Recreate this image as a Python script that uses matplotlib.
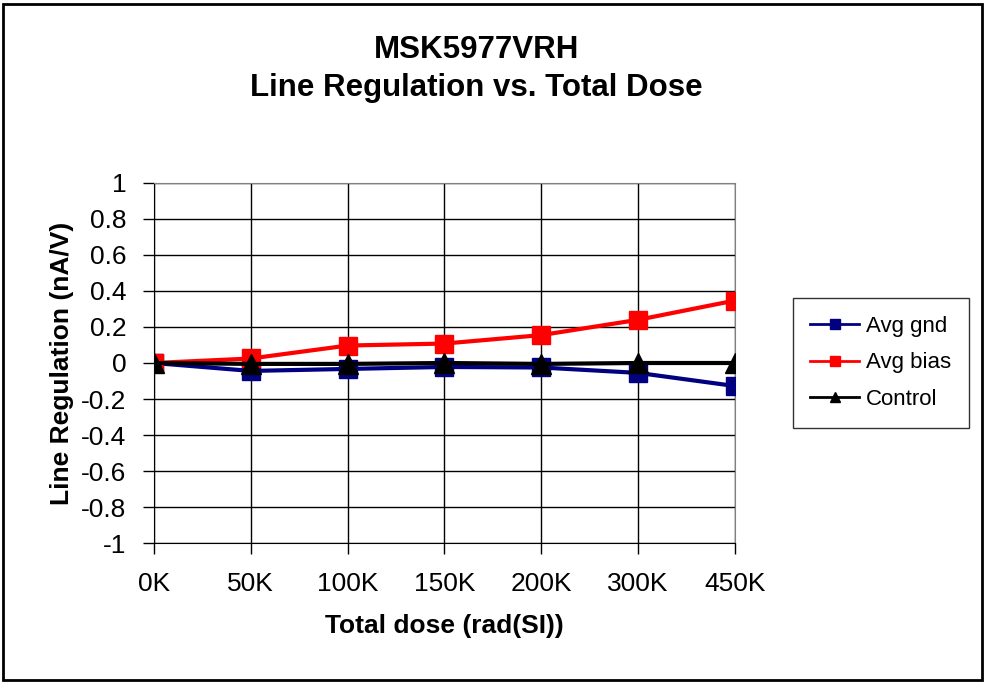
import matplotlib.pyplot as plt
from matplotlib.patches import Rectangle

plt.rcParams['font.family'] = ['Liberation Sans', 'DejaVu Sans']

# categories and series
doses = ['0K', '50K', '100K', '150K', '200K', '300K', '450K']
avg_gnd = [0.0, -0.044, -0.033, -0.022, -0.025, -0.055, -0.128]
avg_bias = [0.0, 0.025, 0.097, 0.108, 0.155, 0.24, 0.347]
control = [0.0, -0.005, -0.005, 0.0, -0.005, 0.0, 0.0]
yticks = [1, 0.8, 0.6, 0.4, 0.2, 0, -0.2, -0.4, -0.6, -0.8, -1]

fig = plt.figure(figsize=(9.85, 6.84), dpi=100)
ax = fig.add_axes([0.1563, 0.2061, 0.5899, 0.5264])

x = range(len(doses))
ax.plot(x, avg_gnd, color='#000080', lw=3, marker='s', ms=13.5, label='Avg gnd', zorder=3)
ax.plot(x, avg_bias, color='#ff0000', lw=3, marker='s', ms=13.5, label='Avg bias', zorder=4)
ax.plot(x, control, color='black', lw=3, marker='^', ms=14, label='Control', zorder=5)

ax.set_xlim(0, len(doses) - 1)
ax.set_ylim(-1, 1)
ax.set_xticks(list(x))
ax.set_xticklabels(doses)
ax.set_yticks(yticks)
ax.set_yticklabels([f'{v:g}' for v in yticks])
ax.tick_params(axis='both', labelsize=19, direction='out', length=8, width=1)
ax.tick_params(axis='x', pad=13)
ax.tick_params(axis='y', pad=12)
ax.grid(True, color='black', lw=1)
ax.set_axisbelow(True)
for s in ['top', 'right']:
    ax.spines[s].set_color('#808080')
for s in ['left', 'bottom']:
    ax.spines[s].set_color('black')

ax.set_xlabel('Total dose (rad(SI))', fontsize=19, fontweight='bold', labelpad=13)
ax.set_ylabel('Line Regulation (nA/V)', fontsize=19, fontweight='bold', labelpad=5)

fig.text(0.484, 0.927, 'MSK5977VRH', fontsize=22.5, fontweight='bold', ha='center', va='center')
fig.text(0.484, 0.871, 'Line Regulation vs. Total Dose', fontsize=22.5, fontweight='bold',
         ha='center', va='center')

leg = ax.legend(loc='center left', bbox_to_anchor=(1.08, 0.5), fontsize=16,
                frameon=True, fancybox=False, edgecolor='black', handlelength=2.2,
                handletextpad=0.3, labelspacing=0.7, borderpad=0.8, markerscale=0.5)
leg.get_frame().set_linewidth(1)
for line in leg.get_lines():
    line.set_linewidth(2)

# outer chart frame
fig.patches.append(Rectangle((0.003, 0.006), 0.994, 0.988, transform=fig.transFigure,
                             fill=False, ec='black', lw=2))

fig.savefig('out.png', dpi=100)
